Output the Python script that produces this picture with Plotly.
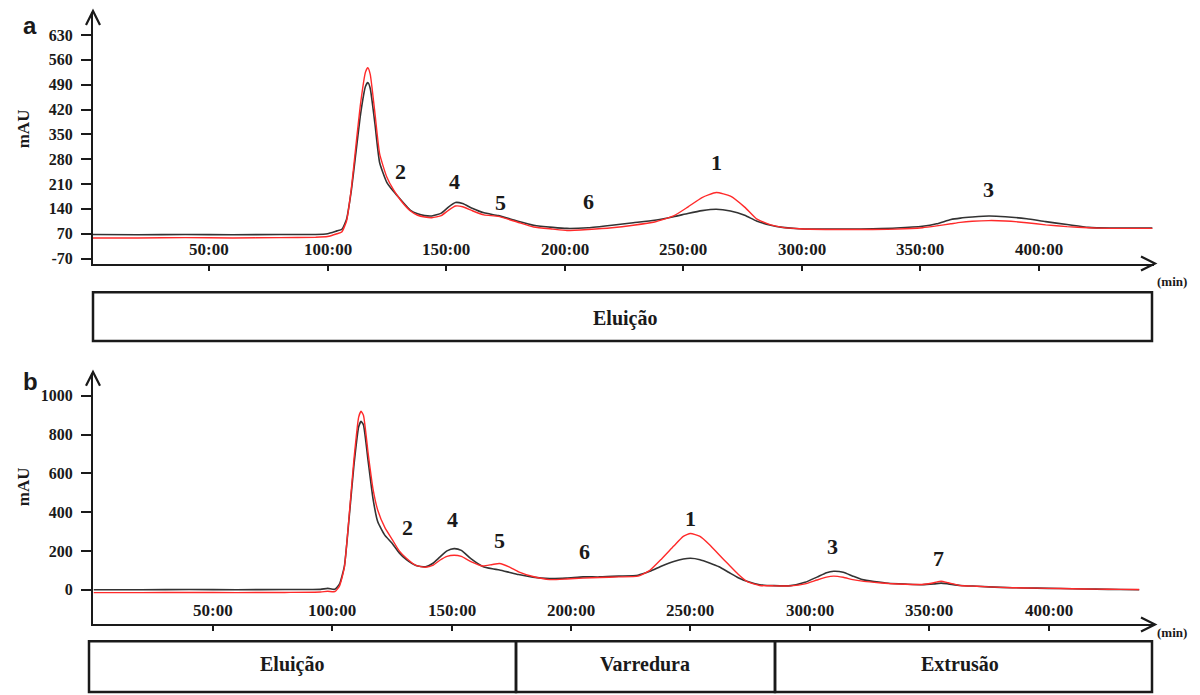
import plotly.graph_objects as go

W, H = 1200, 695
OFF = 8  # page body margin compensation

# ---------------- data: panel a ----------------
time_a = [0, 20, 40, 60, 80, 95, 100, 104, 106, 108, 110, 112, 114, 116, 117, 118, 120, 122, 125, 128,
          131, 135, 138, 141, 144, 148, 151, 154, 157, 161, 166, 172, 180, 187, 195, 201, 210, 220, 229,
          238, 246, 252, 258, 264, 270, 276, 281, 287, 292, 299, 310, 320, 330, 340, 351, 357, 363, 367,
          372, 379, 386, 395, 403, 412, 421, 430, 440, 448]
black_a = [68, 67, 68, 67, 68, 68, 70, 78, 82, 110, 190, 300, 410, 485, 496, 480, 380, 270, 215, 188,
           165, 136, 126, 121, 120, 128, 145, 158, 155, 142, 129, 121, 106, 94, 88, 85, 87, 94, 101,
           108, 118, 127, 135, 139, 134, 122, 106, 94, 88, 84, 83, 83, 84, 86, 91, 98, 110, 114,
           117, 120, 118, 112, 104, 96, 88, 86, 86, 86]
red_a = [58, 58, 59, 58, 59, 60, 62, 70, 75, 105, 195, 320, 440, 525, 538, 520, 410, 295, 230, 192,
         163, 134, 122, 117, 115, 121, 136, 148, 146, 135, 123, 119, 103, 89, 83, 79, 82, 87, 94,
         103, 120, 145, 172, 186, 176, 145, 112, 95, 88, 84, 82, 82, 82, 83, 87, 92, 98, 102,
         105, 107, 106, 101, 95, 90, 87, 85, 85, 85]

# ---------------- data: panel b ----------------
time_b = [0, 20, 40, 60, 80, 95, 98, 101, 103, 105, 107, 109, 111, 112, 113, 115, 117, 119, 122, 125,
          128, 131, 135, 139, 142, 145, 148, 151, 154, 158, 163, 167, 170, 174, 178, 184, 191, 198, 205,
          212, 220, 228, 233, 238, 243, 247, 250, 254, 258, 262, 266, 270, 274, 279, 285, 292, 298, 303,
          307, 310, 314, 318, 322, 327, 333, 340, 347, 352, 355, 358, 363, 370, 380, 390, 400, 410, 420,
          430, 438]
black_b = [0, 0, 1, 0, 1, 2, 7, 2, 30, 120, 370, 640, 840, 868, 850, 660, 470, 350, 280, 240,
           190, 155, 125, 118, 135, 168, 200, 212, 203, 160, 120, 108, 102, 90, 78, 65, 58, 60, 66,
           66, 70, 75, 95, 122, 145, 158, 162, 155, 138, 118, 90, 62, 42, 26, 21, 21, 38, 65,
           88, 95, 90, 70, 52, 42, 33, 29, 26, 30, 34, 30, 22, 18, 12, 9, 7, 5, 3,
           1, 0]
red_b = [-15, -15, -14, -15, -14, -12, -8, -10, 20, 115, 380, 670, 890, 920, 900, 700, 520, 410, 320, 260,
         200, 162, 125, 116, 125, 152, 172, 178, 172, 145, 122, 130, 135, 118, 92, 68, 52, 55, 60,
         63, 66, 70, 100, 160, 225, 275, 290, 275, 232, 180, 130, 80, 40, 22, 20, 20, 30, 50,
         65, 70, 64, 52, 44, 38, 32, 28, 27, 36, 44, 36, 22, 18, 12, 9, 7, 5, 3,
         2, 1]

# ticks
x_tick_vals = [50, 100, 150, 200, 250, 300, 350, 400]
x_tick_text = ["50:00", "100:00", "150:00", "200:00", "250:00", "300:00", "350:00", "400:00"]
y_tick_vals_a = [0, 70, 140, 210, 280, 350, 420, 490, 560, 630]
y_tick_text_a = ["-70", "70", "140", "210", "280", "350", "420", "490", "560", "630"]
y_tick_vals_b = [0, 200, 400, 600, 800, 1000]
y_tick_text_b = ["0", "200", "400", "600", "800", "1000"]

# peak labels
peak_labels_a = ["2", "4", "5", "6", "1", "3"]
peak_t_a = [130.6, 153.4, 172.8, 210.3, 263.9, 378.7]
peak_v_a = [246, 216, 157, 160, 272, 196]
peak_labels_b = ["2", "4", "5", "6", "1", "3", "7"]
peak_t_b = [131.3, 150.1, 170.2, 205.8, 250.0, 309.3, 354.1]
peak_v_b = [323, 364, 256, 195, 369, 221, 159]

# phase boxes
phases_a = ["Eluição"]
phases_b = ["Eluição", "Varredura", "Extrusão"]

SERIF = "Liberation Serif, Times New Roman, serif"
SANS = "Liberation Sans, Arial, sans-serif"
INK = "#1a1a1a"


def px(x):
    return (x - OFF) / W


def py(y):
    return 1 - (y - OFF) / H


fig = go.Figure()
for xs, ys, col, wd, xa, ya in [
    (time_a, black_a, "#333333", 1.6, "x", "y"),
    (time_a, red_a, "#ff2a2a", 1.4, "x", "y"),
    (time_b, black_b, "#333333", 1.6, "x2", "y2"),
    (time_b, red_b, "#ff2a2a", 1.4, "x2", "y2"),
]:
    fig.add_trace(go.Scatter(x=xs, y=ys, mode="lines",
                             line=dict(color=col, width=wd, shape="spline", smoothing=0.5),
                             xaxis=xa, yaxis=ya, showlegend=False))

xcommon = dict(tickvals=x_tick_vals, ticks="outside", ticklen=5, tickwidth=2,
               tickcolor=INK, showticklabels=False, showline=True, linewidth=2, linecolor=INK,
               showgrid=False, zeroline=False)
ycommon = dict(ticks="outside", ticklen=10, tickwidth=2, tickcolor=INK, showline=True, linewidth=2,
               linecolor=INK, showgrid=False, zeroline=False, ticklabelstandoff=5,
               tickfont=dict(family=SERIF, size=16, color=INK, weight="bold"))

fig.update_layout(
    width=W, height=H, margin=dict(l=0, r=0, t=0, b=0),
    paper_bgcolor="white", plot_bgcolor="white",
    xaxis=dict(domain=[px(93), px(1154)], range=[1.05, 448.7], anchor="y", **xcommon),
    yaxis=dict(domain=[py(265), py(12)], range=[-14, 695], anchor="x",
               tickvals=y_tick_vals_a, ticktext=y_tick_text_a, **ycommon),
    xaxis2=dict(domain=[px(93), px(1154)], range=[-0.3, 444.2], anchor="y2", **xcommon),
    yaxis2=dict(domain=[py(628), py(375)], range=[-179, 1118], anchor="x2",
                tickvals=y_tick_vals_b, ticktext=y_tick_text_b, **ycommon),
)

shapes = []
ann = []


def text(x, y, s, size, family=SERIF, angle=0, xref="paper", yref="paper", conv=True):
    ann.append(dict(x=px(x) if (conv and xref == "paper") else x,
                    y=py(y) if (conv and yref == "paper") else y,
                    xref=xref, yref=yref, text=s, showarrow=False, textangle=angle,
                    xanchor="center", yanchor="middle",
                    font=dict(family=family, size=size, color=INK, weight="bold")))


def chevron(points):
    d = "M " + " L ".join(f"{px(x)},{py(y)}" for x, y in points)
    shapes.append(dict(type="path", path=d, xref="paper", yref="paper",
                       line=dict(color=INK, width=2.2)))


# arrowheads
chevron([(1141, 258), (1155, 265), (1141, 272)])
chevron([(86, 25), (93, 11), (100, 25)])
chevron([(1141, 621), (1155, 628), (1141, 635)])
chevron([(86, 388), (93, 374), (100, 388)])


def rect(x0, y0, x1, y1, w=2.5):
    shapes.append(dict(type="rect", xref="paper", yref="paper", x0=px(x0), x1=px(x1), y0=py(y1), y1=py(y0),
                       line=dict(color=INK, width=w)))


# phase boxes
rect(93, 294, 1152, 343)
text(625, 320, phases_a[0], 20)
rect(89, 645, 516, 696)
rect(516, 645, 775, 696)
rect(775, 645, 1152, 696)
for label, cx in zip(phases_b, [292, 645, 960]):
    text(cx, 668, label, 20)

# x tick labels (above the axis line)
for v, s in zip(x_tick_vals, x_tick_text):
    ann.append(dict(x=v, y=py(251), xref="x", yref="paper", text=s, showarrow=False,
                    xanchor="center", yanchor="middle",
                    font=dict(family=SERIF, size=17, color=INK, weight="bold")))
    ann.append(dict(x=v, y=py(614), xref="x2", yref="paper", text=s, showarrow=False,
                    xanchor="center", yanchor="middle",
                    font=dict(family=SERIF, size=17, color=INK, weight="bold")))

# panel letters
text(30, 26, "a", 24, family=SANS)
text(30, 384, "b", 24, family=SANS)

# y titles
text(23, 130, "mAU", 17, angle=-90)
text(23, 490, "mAU", 17, angle=-90)

# (min)
text(1172, 283, "(min)", 13)
text(1172, 636, "(min)", 13)

# peak labels
for lab, t, v in zip(peak_labels_a, peak_t_a, peak_v_a):
    text(t, v, lab, 22, xref="x", yref="y", conv=False)
for lab, t, v in zip(peak_labels_b, peak_t_b, peak_v_b):
    text(t, v, lab, 22, xref="x2", yref="y2", conv=False)

fig.update_layout(shapes=shapes, annotations=ann)
fig.write_html("out.html")
